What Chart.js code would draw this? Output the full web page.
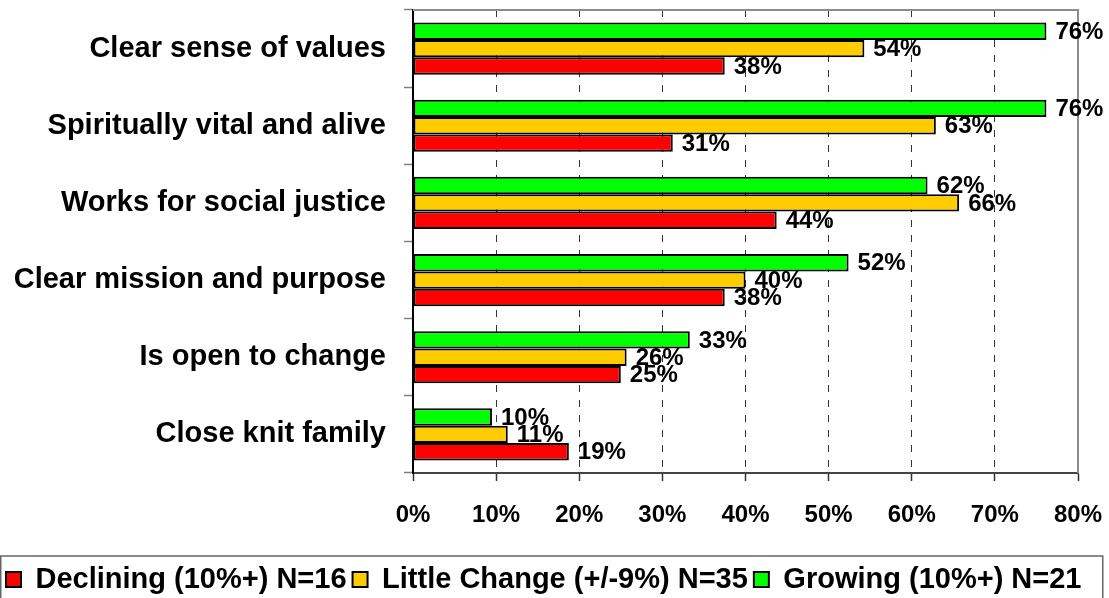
<!DOCTYPE html>
<html>
<head>
<meta charset="utf-8">
<title>Congregation characteristics</title>
<script src="https://cdn.jsdelivr.net/npm/chart.js@4/dist/chart.umd.min.js"></script>
<style>
  html, body { margin: 0; padding: 0; background: #fff; }
  #wrap { width: 1109px; height: 598px; }
</style>
</head>
<body>
<div id="wrap"><canvas id="congChart"></canvas></div>
<script>
const categories = [
  'Clear sense of values',
  'Spiritually vital and alive',
  'Works for social justice',
  'Clear mission and purpose',
  'Is open to change',
  'Close knit family'
];

const seriesNames = ['Growing (10%+) N=21', 'Little Change (+/-9%) N=35', 'Declining (10%+) N=16'];

// percent of congregations
const growing = [76.2, 76.2, 61.9, 52.4, 33.3, 9.5];
const littleChange = [54.3, 62.9, 65.7, 40.0, 25.7, 11.4];
const declining = [37.5, 31.25, 43.75, 37.5, 25.0, 18.75];

const xTicks = [0, 10, 20, 30, 40, 50, 60, 70, 80];

const FONT = "'Liberation Sans', Arial, sans-serif";

// value labels to the right of each bar
const barLabels = {
  id: 'barLabels',
  afterDatasetsDraw(chart) {
    const ctx = chart.ctx;
    ctx.save();
    ctx.font = 'bold 24px ' + FONT;
    ctx.fillStyle = '#000';
    ctx.textAlign = 'left';
    ctx.textBaseline = 'middle';
    chart.data.datasets.forEach((ds, i) => {
      const meta = chart.getDatasetMeta(i);
      meta.data.forEach((bar, j) => {
        ctx.fillText(Math.round(ds.data[j]) + '%', bar.x + 9, bar.y + 1);
      });
    });
    ctx.restore();
  }
};

// gray frame on top/right of the plot and a box round the legend
const frames = {
  id: 'frames',
  beforeDatasetsDraw(chart) {
    const a = chart.chartArea;
    const ctx = chart.ctx;
    ctx.save();
    ctx.strokeStyle = '#8c8c8c';
    ctx.lineWidth = 2;
    ctx.beginPath();
    ctx.moveTo(a.left, a.top);
    ctx.lineTo(a.right, a.top);
    ctx.lineTo(a.right, a.bottom);
    ctx.stroke();
    ctx.restore();
  },
  afterDraw(chart) {
    const lg = chart.legend;
    const ctx = chart.ctx;
    ctx.save();
    ctx.strokeStyle = '#666';
    ctx.lineWidth = 1.5;
    ctx.strokeRect(0.75, lg.top - 3, 1102, chart.height);
    ctx.restore();
  }
};

const chart = new Chart(document.getElementById('congChart'), {
  type: 'bar',
  data: {
    labels: categories,
    datasets: [
      { label: seriesNames[0], data: growing, backgroundColor: '#00ff00' },
      { label: seriesNames[1], data: littleChange, backgroundColor: '#ffcc00' },
      { label: seriesNames[2], data: declining, backgroundColor: '#ff0000' }
    ]
  },
  options: {
    indexAxis: 'y',
    responsive: true,
    maintainAspectRatio: false,
    animation: false,
    datasets: {
      bar: {
        borderColor: '#000',
        borderWidth: 2,
        borderSkipped: false,
        categoryPercentage: 0.675,
        barPercentage: 1
      }
    },
    layout: {
      padding: { top: 10, right: 0, bottom: -6, left: 0 }
    },
    scales: {
      x: {
        min: 0,
        max: 80,
        afterBuildTicks(scale) {
          scale.ticks = xTicks.map(v => ({ value: v }));
        },
        afterFit(scale) {
          scale.height = 86;
          scale.paddingRight = 31;
        },
        ticks: {
          padding: 20,
          color: '#000',
          font: { family: FONT, size: 24, weight: 'bold' },
          callback: v => v + '%'
        },
        grid: {
          color: c => (c.tick && (c.tick.value === 0 || c.tick.value === 80)) ? 'rgba(0,0,0,0)' : '#333',
          lineWidth: 1,
          tickLength: 8,
          tickColor: '#333',
          tickWidth: 1.5
        },
        border: { color: '#444', width: 2, dash: [7, 8] }
      },
      y: {
        afterFit(scale) {
          scale.width = 413;
          scale.paddingTop = 0;
          scale.paddingBottom = 0;
        },
        ticks: {
          padding: 18,
          color: '#000',
          font: { family: FONT, size: 29, weight: 'bold' }
        },
        grid: {
          drawOnChartArea: false,
          tickLength: 9,
          tickColor: '#808080',
          tickWidth: 1.5
        },
        border: { color: '#000', width: 2 }
      }
    },
    plugins: {
      tooltip: { enabled: false },
      legend: {
        position: 'bottom',
        align: 'start',
        reverse: true,
        labels: {
          boxWidth: 15,
          boxHeight: 15,
          padding: 6,
          color: '#000',
          font: { family: FONT, size: 29, weight: 'bold' }
        }
      }
    }
  },
  plugins: [barLabels, frames]
});
</script>
</body>
</html>
